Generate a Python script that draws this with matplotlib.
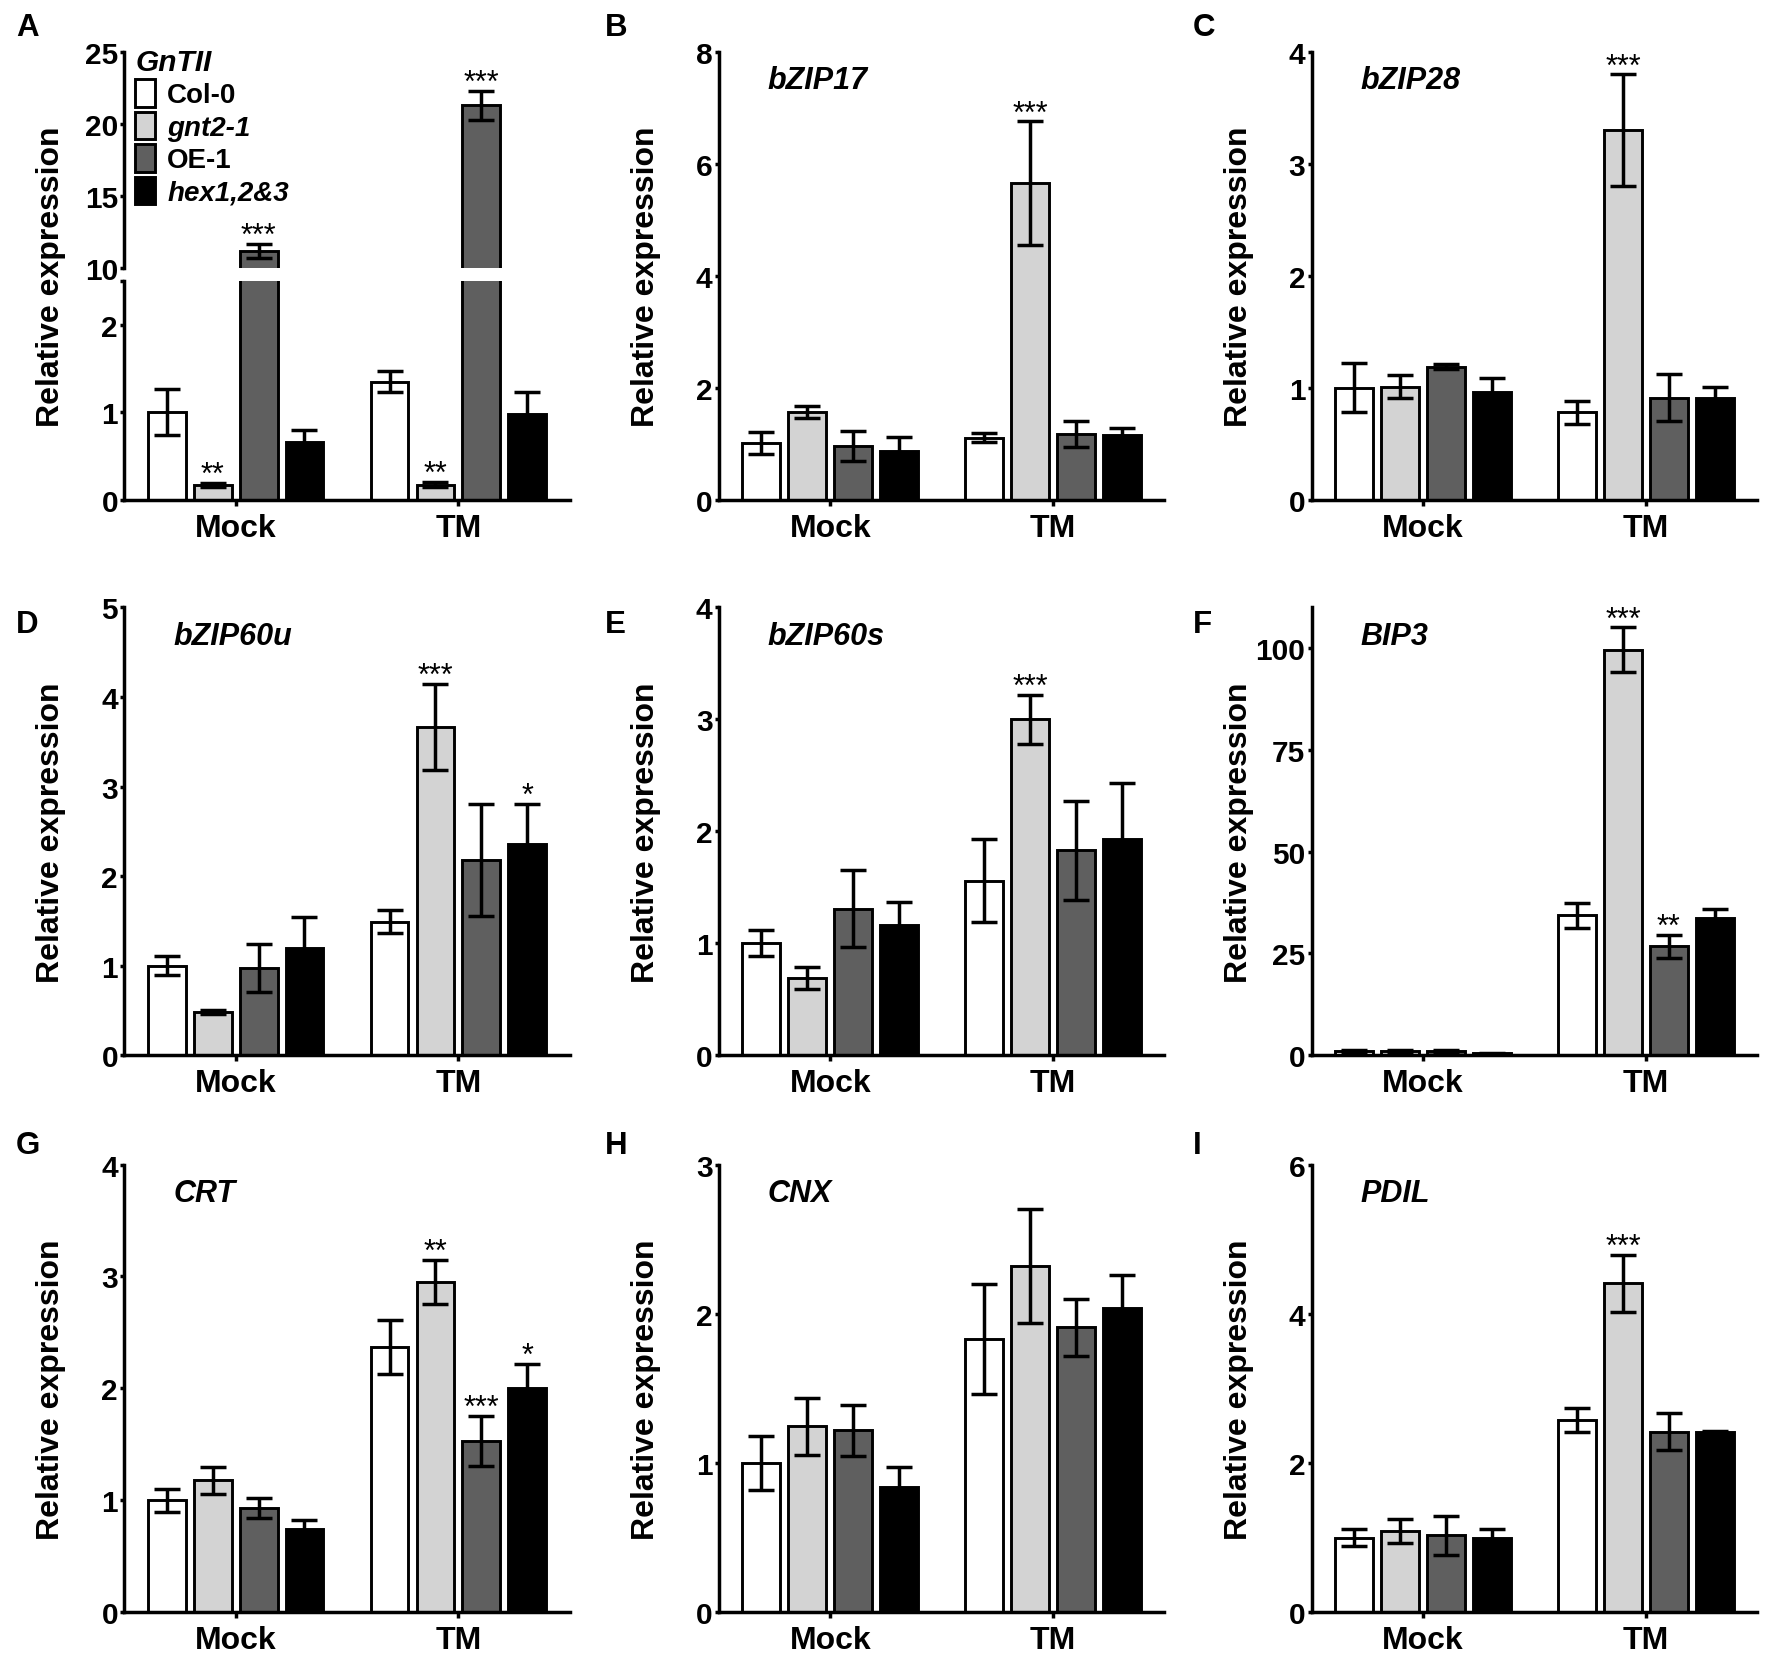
import numpy as np
import matplotlib
matplotlib.use('Agg')
import matplotlib.pyplot as plt
from matplotlib.patches import Patch

plt.rcParams['font.family'] = ['Liberation Sans', 'DejaVu Sans']
plt.rcParams['font.weight'] = 'bold'

# -------------------------------
# data
# rows: [Mock, TM], columns: Col-0, gnt2-1, OE-1, hex1,2&3
# -------------------------------
groups = ['Mock', 'TM']
lines = ['Col-0', 'gnt2-1', 'OE-1', 'hex1,2&3']
colors = ['#ffffff', '#d3d3d3', '#5f5f5f', '#000000']

gntii_mean = [[1.0, 0.17, 11.2, 0.66], [1.35, 0.17, 21.3, 0.98]]
gntii_err = [[0.26, 0.02, 0.5, 0.14], [0.12, 0.03, 1.0, 0.25]]
gntii_sig = [['', '**', '***', ''], ['', '**', '***', '']]

bzip17_mean = [[1.01, 1.57, 0.96, 0.87], [1.11, 5.66, 1.17, 1.15]]
bzip17_err = [[0.2, 0.11, 0.27, 0.25], [0.08, 1.1, 0.23, 0.14]]
bzip17_sig = [['', '', '', ''], ['', '***', '', '']]

bzip28_mean = [[1.0, 1.01, 1.19, 0.965], [0.78, 3.3, 0.91, 0.91]]
bzip28_err = [[0.22, 0.1, 0.02, 0.12], [0.1, 0.5, 0.21, 0.1]]
bzip28_sig = [['', '', '', ''], ['', '***', '', '']]

bzip60u_mean = [[1.0, 0.48, 0.97, 1.2], [1.49, 3.67, 2.18, 2.36]]
bzip60u_err = [[0.11, 0.02, 0.27, 0.34], [0.13, 0.48, 0.63, 0.45]]
bzip60u_sig = [['', '', '', ''], ['', '***', '', '*']]

bzip60s_mean = [[1.0, 0.69, 1.31, 1.16], [1.56, 3.0, 1.83, 1.93]]
bzip60s_err = [[0.115, 0.1, 0.34, 0.21], [0.37, 0.22, 0.44, 0.5]]
bzip60s_sig = [['', '', '', ''], ['', '***', '', '']]

bip3_mean = [[1.0, 1.0, 1.0, 0.5], [34.4, 99.6, 26.7, 33.7]]
bip3_err = [[0.2, 0.2, 0.2, 0.1], [3.1, 5.5, 2.9, 2.1]]
bip3_sig = [['', '', '', ''], ['', '***', '**', '']]

crt_mean = [[1.0, 1.18, 0.93, 0.745], [2.37, 2.95, 1.53, 2.0]]
crt_err = [[0.1, 0.12, 0.09, 0.08], [0.24, 0.2, 0.22, 0.22]]
crt_sig = [['', '', '', ''], ['', '**', '***', '*']]

cnx_mean = [[1.0, 1.245, 1.22, 0.84], [1.83, 2.32, 1.91, 2.04]]
cnx_err = [[0.18, 0.19, 0.17, 0.13], [0.37, 0.38, 0.19, 0.22]]
cnx_sig = [['', '', '', ''], ['', '', '', '']]

pdil_mean = [[1.0, 1.09, 1.03, 0.99], [2.58, 4.41, 2.42, 2.41]]
pdil_err = [[0.11, 0.16, 0.26, 0.13], [0.16, 0.38, 0.25, 0.02]]
pdil_sig = [['', '', '', ''], ['', '***', '', '']]

# -------------------------------
# style
# -------------------------------
offsets = np.array([-1.5, -0.5, 0.5, 1.5]) * 0.206
bar_w = 0.17
LW = 2.5
EDGE_LW = 2.1
TICK_FS = 21.5
XLAB_FS = 23
YLAB_FS = 23
GENE_FS = 22
STAR_FS = 22


def draw_bars(ax, mean, err, sig, ylim):
    x = np.arange(len(groups))
    for i in range(len(lines)):
        m = np.array([mean[g][i] for g in range(len(groups))])
        e = np.array([err[g][i] for g in range(len(groups))])
        ax.bar(x + offsets[i], m, bar_w, color=colors[i], edgecolor='black',
               linewidth=EDGE_LW, zorder=2)
        ax.errorbar(x + offsets[i], m, yerr=e, fmt='none', ecolor='black',
                    elinewidth=LW, capsize=9.5, capthick=LW, zorder=3)
        for g in range(len(groups)):
            s = sig[g][i]
            top = m[g] + e[g]
            if s and ylim[0] < top < ylim[1]:
                ax.text(x[g] + offsets[i], top, s, ha='center', va='baseline',
                        fontsize=STAR_FS, fontweight='normal', zorder=4)


def style_axis(ax, ylim, yticks, show_x=True):
    for sp in ['top', 'right']:
        ax.spines[sp].set_visible(False)
    ax.spines['left'].set_linewidth(LW)
    ax.spines['bottom'].set_linewidth(LW)
    ax.set_xlim(-0.5, 1.5)
    ax.set_ylim(*ylim)
    ax.set_yticks(yticks)
    ax.tick_params(axis='y', direction='out', length=3, width=LW,
                   labelsize=TICK_FS, pad=1.5)
    if show_x:
        ax.set_xticks(np.arange(len(groups)))
        ax.set_xticklabels(groups, fontsize=XLAB_FS, fontweight='bold')
        ax.tick_params(axis='x', direction='out', length=4.5, width=LW, pad=5)
    else:
        ax.spines['bottom'].set_visible(False)
        ax.set_xticks([])


fig = plt.figure(figsize=(17.75, 16.58), dpi=100)

col_left = [0.070, 0.405, 0.739]
ax_w = 0.251
row_bottom = [0.698, 0.363, 0.027]
ax_h = 0.270
letter_x = [0.009, 0.341, 0.672]
letter_y = [0.983, 0.623, 0.309]

panels = [
    None,
    ('bZIP17', bzip17_mean, bzip17_err, bzip17_sig, (0, 8), [0, 2, 4, 6, 8]),
    ('bZIP28', bzip28_mean, bzip28_err, bzip28_sig, (0, 4), [0, 1, 2, 3, 4]),
    ('bZIP60u', bzip60u_mean, bzip60u_err, bzip60u_sig, (0, 5), [0, 1, 2, 3, 4, 5]),
    ('bZIP60s', bzip60s_mean, bzip60s_err, bzip60s_sig, (0, 4), [0, 1, 2, 3, 4]),
    ('BIP3', bip3_mean, bip3_err, bip3_sig, (0, 110), [0, 25, 50, 75, 100]),
    ('CRT', crt_mean, crt_err, crt_sig, (0, 4), [0, 1, 2, 3, 4]),
    ('CNX', cnx_mean, cnx_err, cnx_sig, (0, 3), [0, 1, 2, 3]),
    ('PDIL', pdil_mean, pdil_err, pdil_sig, (0, 6), [0, 2, 4, 6]),
]
letters = 'ABCDEFGHI'

for k in range(9):
    r, c = divmod(k, 3)
    fig.text(letter_x[c], letter_y[r], letters[k], fontsize=22.5,
             fontweight='bold', ha='left', va='center')
    if k == 0:
        continue
    gene, mean, err, sig, ylim, yticks = panels[k]
    ax = fig.add_axes([col_left[c], row_bottom[r], ax_w, ax_h])
    style_axis(ax, ylim, yticks)
    draw_bars(ax, mean, err, sig, ylim)
    ax.set_ylabel('Relative expression', fontsize=YLAB_FS, fontweight='bold')
    ax.yaxis.set_label_coords(-0.13, 0.5)
    ax.text(0.11, 0.937, gene, transform=ax.transAxes, fontsize=GENE_FS,
            fontweight='bold', fontstyle='italic', ha='left', va='center')

# -------------------------------
# panel A with broken y axis
# -------------------------------
h_low = ax_h * 0.489
h_gap = ax_h * 0.028
h_top = ax_h - h_low - h_gap
ax_lo = fig.add_axes([col_left[0], row_bottom[0], ax_w, h_low])
ax_hi = fig.add_axes([col_left[0], row_bottom[0] + h_low + h_gap, ax_w, h_top])

style_axis(ax_lo, (0, 2.5), [0, 1, 2, 2.5])
ax_lo.set_yticklabels(['0', '1', '2', ''])
draw_bars(ax_lo, gntii_mean, gntii_err, gntii_sig, (0, 2.5))

style_axis(ax_hi, (10, 25), [10, 15, 20, 25], show_x=False)
draw_bars(ax_hi, gntii_mean, gntii_err, gntii_sig, (10, 25))

ax_lo.set_ylabel('Relative expression', fontsize=YLAB_FS, fontweight='bold')
ax_lo.yaxis.set_label_coords(-0.13, 0.5 * ax_h / h_low)

handles = [Patch(facecolor=colors[i], edgecolor='black', linewidth=EDGE_LW)
           for i in range(len(lines))]
leg = ax_hi.legend(handles, lines, loc='upper left', bbox_to_anchor=(0.025, 1.02),
                   frameon=False, fontsize=20, handlelength=0.7, handleheight=1.15,
                   handletextpad=0.45, labelspacing=0.12, borderaxespad=0,
                   borderpad=0, title='GnTII', alignment='left')
leg.get_title().set_fontsize(21.5)
leg.get_title().set_fontweight('bold')
leg.get_title().set_fontstyle('italic')
for i, t in enumerate(leg.get_texts()):
    t.set_fontweight('bold')
    if i in (1, 3):
        t.set_fontstyle('italic')

plt.savefig('out.png', dpi=100)
